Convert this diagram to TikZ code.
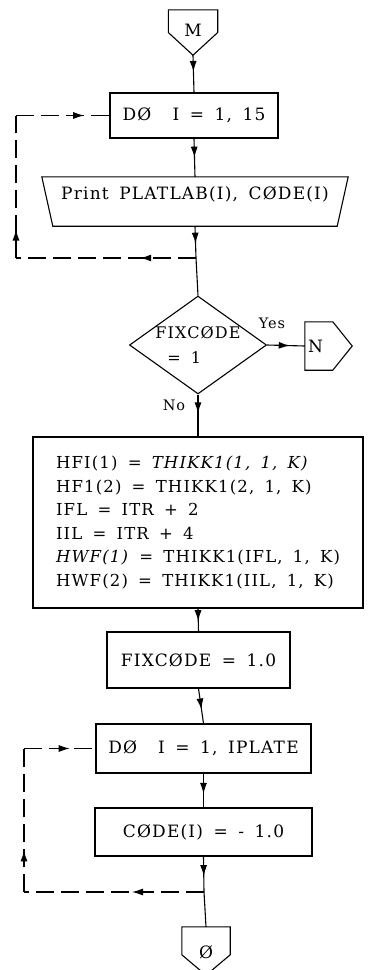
\documentclass[tikz,border=0pt]{standalone}
\usepackage{fontspec}
\setmainfont{DejaVu Serif}[LetterSpace=7,WordSpace=1.6]
\usetikzlibrary{calc,shapes.geometric,decorations.markings,arrows.meta}
\tikzset{
  ln/.style={line width=1.1pt},
  box/.style={draw,line width=1.1pt,inner sep=0pt,font=\fontsize{17}{20}\selectfont},
  plain/.style={inner sep=0pt,font=\fontsize{17}{20}\selectfont},
  lbl/.style={inner sep=0pt,font=\fontsize{14.5}{16}\selectfont},
  loopline/.style={line width=1.1pt,dash pattern=on 18pt off 7pt},
  midarrow/.style={postaction={decorate},decoration={markings,mark=at position #1 with {\arrow{Latex[length=11pt,width=7pt]}}}},
  midarrow/.default=0.5
}
\begin{document}
\begin{tikzpicture}[x=1pt,y=-1pt]
\useasboundingbox (0,0) rectangle (368,970);
% connector M
\node[plain,minimum width=49pt,minimum height=45pt,label={[plain,yshift=2.5pt]center:M}] (m) at (193,32.5) {};
\draw[ln] (m.north west) -- (m.north east) -- (m.east) -- (m.south) -- (m.west) -- cycle;
% DO 1
\node[box,minimum width=168pt,minimum height=45pt] (do1) at (194,115.5) {DØ\ \ I = 1, 15};
% print
\node[plain,minimum width=306pt,minimum height=49pt,label={[plain,yshift=7pt]center:Print PLATLAB(I), CØDE(I)}] (pr) at (195,201.5) {};
\draw[ln] (pr.north west) -- (pr.north east) -- ($(pr.south east)+(-11,0)$) -- ($(pr.south west)+(11,0)$) -- cycle;
\coordinate (j1) at (196,258);
\coordinate (c1a) at (16,258);
\coordinate (c1b) at (16,115.5);
% decision
\node[diamond,draw,ln,aspect=1.4,minimum width=135pt,minimum height=97pt,inner sep=0pt,align=left,font=\fontsize{16}{25}\selectfont] (dia) at (198,345) {FIXCØDE\\\hspace*{12pt}= 1};
\node[lbl] (yes) at (272,323) {Yes};
\node[lbl] (no) at (174,405) {No};
% N connector
\node[plain,minimum width=47pt,minimum height=48pt,label={[plain,xshift=-13pt]center:N}] (n) at (328.5,346) {};
\draw[ln] (n.north west) -- ($(n.north west)+(28,0)$) -- (n.east) -- ($(n.south west)+(28,0)$) -- (n.south west) -- cycle;
% big box
\node[box,minimum width=330pt,minimum height=171pt,align=left,font=\fontsize{16.5}{23.5}\selectfont] (big) at (198,522.5) {%
HFI(1) = \textit{THIKK1(1, 1, K)}\\
HF1(2) = THIKK1(2, 1, K)\\
IFL = ITR + 2\\
IIL = ITR + 4\\
\textit{HWF(1)} = THIKK1(IFL, 1, K)\\
HWF(2) = THIKK1(IIL, 1, K)};
% FIXCODE
\node[box,minimum width=183pt,minimum height=56pt] (fix) at (198.5,660) {FIXCØDE = 1.0};
% DO 2
\node[box,minimum width=215pt,minimum height=49pt] (do2) at (203.5,748.5) {DØ\ \ I = 1, IPLATE};
% CODE
\node[box,minimum width=217pt,minimum height=48pt] (code) at (203.5,832) {CØDE(I) = - 1.0};
\coordinate (j2) at (204,892);
\coordinate (c2a) at (24,892);
\coordinate (c2b) at (24,748.5);
% connector O
\node[plain,minimum width=48pt,minimum height=48pt,label={[plain,yshift=-1pt]center:Ø}] (o) at (206,951) {};
\draw[ln] (o.north west) -- (o.north east) -- ($(o.north east)+(0,28)$) -- (o.south) -- ($(o.north west)+(0,28)$) -- cycle;
% connectors
\draw[ln,midarrow=0.45] (m.south) -- (do1.north);
\draw[ln,midarrow=0.5] (do1.south) -- (pr.north);
\draw[ln,midarrow=0.55] (pr.south) -- (j1);
\draw[ln] (j1) -- (dia.north);
\draw[loopline,midarrow=0.31] (j1) -- (c1a);
\draw[loopline,midarrow=0.2] (c1a) -- (c1b);
\draw[loopline,midarrow=0.73] (c1b) -- (do1.west);
\draw[ln,midarrow=0.6] (dia.east) -- (n.west);
\draw[ln,midarrow=0.45] (dia.south) -- (big.north);
\draw[ln,midarrow=0.55] (big.south) -- (fix.north);
\draw[ln,midarrow=0.6] (fix.south) -- (do2.north);
\draw[ln,midarrow=0.6] (do2.south) -- (code.north);
\draw[ln,midarrow=0.55] (code.south) -- (j2);
\draw[ln] (j2) -- (o.north);
\draw[loopline,midarrow=0.4] (j2) -- (c2a);
\draw[loopline,midarrow=0.29] (c2a) -- (c2b);
\draw[loopline,midarrow=0.64] (c2b) -- (do2.west);
\end{tikzpicture}
\end{document}
